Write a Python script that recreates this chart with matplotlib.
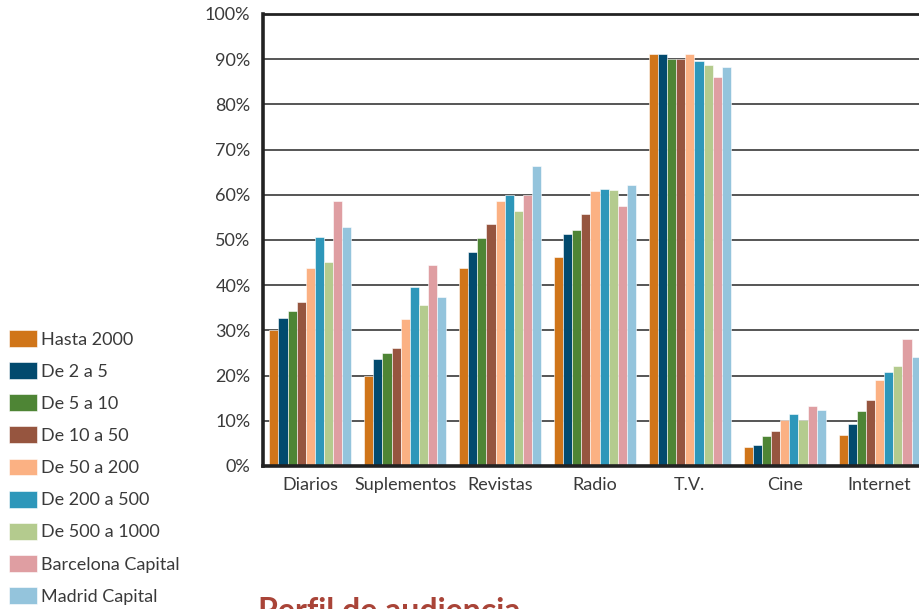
import matplotlib
matplotlib.use("Agg")
import matplotlib.pyplot as plt
import numpy as np

plt.rcParams['font.family'] = ['Lato', 'DejaVu Sans']

categories = ["Diarios", "Suplementos", "Revistas", "Radio", "T.V.", "Cine", "Internet"]
series_names = ["Hasta 2000", "De 2 a 5", "De 5 a 10", "De 10 a 50", "De 50 a 200",
                "De 200 a 500", "De 500 a 1000", "Barcelona Capital", "Madrid Capital"]

hasta_2000 = [30.0, 20.0, 43.9, 46.3, 91.2, 4.2, 6.9]
de_2_a_5 = [32.8, 23.6, 47.3, 51.3, 91.2, 4.6, 9.4]
de_5_a_10 = [34.4, 24.9, 50.4, 52.2, 90.0, 6.6, 12.2]
de_10_a_50 = [36.3, 26.0, 53.5, 55.8, 90.0, 7.7, 14.6]
de_50_a_200 = [43.9, 32.6, 58.6, 60.8, 91.1, 10.1, 19.0]
de_200_a_500 = [50.7, 39.5, 59.9, 61.3, 89.5, 11.4, 20.8]
de_500_a_1000 = [45.1, 35.6, 56.5, 61.1, 88.8, 10.2, 22.2]
barcelona = [58.6, 44.5, 60.0, 57.5, 86.0, 13.3, 28.2]
madrid = [52.8, 37.5, 66.3, 62.1, 88.3, 12.3, 24.2]

series_values = [hasta_2000, de_2_a_5, de_5_a_10, de_10_a_50, de_50_a_200,
                 de_200_a_500, de_500_a_1000, barcelona, madrid]
colors = ["#D07519", "#024A6E", "#4E8535", "#96553F", "#FBB183",
          "#2E97BA", "#B4CB8E", "#DF9EA2", "#94C4DC"]

ytick_values = np.arange(0, 101, 10)
ytick_labels = [f"{v}%" for v in ytick_values]

W, H = 920, 609
fig = plt.figure(figsize=(W / 100, H / 100), dpi=100)
ax_left, ax_right, ax_top, ax_bottom = 263, 927, 14, 466
ax = fig.add_axes([ax_left / W, 1 - ax_bottom / H,
                   (ax_right - ax_left) / W, (ax_bottom - ax_top) / H])

n = len(series_names)
x = np.arange(len(categories))
bw = 0.0962
handles = []
for i, (name, vals, c) in enumerate(zip(series_names, series_values, colors)):
    offs = (i - (n - 1) / 2) * bw
    b = ax.bar(x + offs, vals, width=bw, color=c, edgecolor='white',
               linewidth=0.4, label=name, zorder=3)
    handles.append(b)

ax.set_xlim(-0.5, len(categories) - 0.5)
ax.set_ylim(0, 100)
ax.set_yticks(ytick_values)
ax.set_yticklabels(ytick_labels)
ax.set_xticks(x)
ax.set_xticklabels(categories)
ax.tick_params(axis='both', length=0, labelsize=13, colors='#3a3a3a')
ax.tick_params(axis='y', pad=9)
ax.tick_params(axis='x', pad=8)
ax.yaxis.grid(True, color='#555555', linewidth=1.4, zorder=0)
ax.set_axisbelow(True)
for s in ['left', 'bottom', 'top']:
    ax.spines[s].set_color('#222222')
    ax.spines[s].set_zorder(5)
ax.spines['left'].set_linewidth(2.6)
ax.spines['bottom'].set_linewidth(2.6)
ax.spines['top'].set_linewidth(2.0)
ax.spines['right'].set_visible(False)

fs = 13
fs_px = fs * 100 / 72
leg = fig.legend(handles=handles, labels=series_names, loc='upper left',
                 bbox_to_anchor=(9 / W, 1 - 330 / H), frameon=False,
                 fontsize=fs, handlelength=28 / fs_px, handleheight=19 / fs_px,
                 handletextpad=4 / fs_px, labelspacing=14.6 / fs_px,
                 borderaxespad=0, borderpad=0)
for t in leg.get_texts():
    t.set_color('#3a3a3a')

fig.text(258 / W, 1 - 597 / H, "Perfil de audiencia", color='#A94438',
         fontsize=23, fontweight='bold', va='top', ha='left')

fig.savefig("out.png", dpi=100)
